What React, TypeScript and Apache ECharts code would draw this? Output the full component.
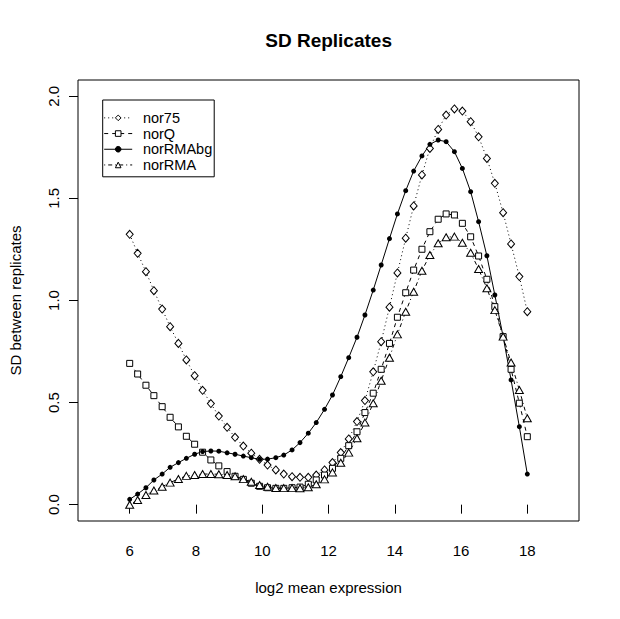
import React, { useEffect, useRef } from "react";
import * as echarts from "echarts";

const xValues = [
  6.0, 6.24, 6.49, 6.73, 6.98, 7.22, 7.47, 7.71, 7.96, 8.2, 8.45, 8.69, 8.94, 9.18, 9.43, 9.67, 9.92,
  10.16, 10.41, 10.65, 10.9, 11.14, 11.39, 11.63, 11.88, 12.12, 12.37, 12.61, 12.86, 13.1, 13.35,
  13.59, 13.84, 14.08, 14.33, 14.57, 14.82, 15.06, 15.31, 15.55, 15.8, 16.04, 16.29, 16.53, 16.78,
  17.02, 17.27, 17.51, 17.76, 18.0,
];

const nor75 = [
  1.324, 1.231, 1.141, 1.048, 0.958, 0.872, 0.79, 0.709, 0.632, 0.56, 0.495, 0.434, 0.379, 0.33,
  0.287, 0.252, 0.222, 0.194, 0.17, 0.15, 0.137, 0.134, 0.134, 0.145, 0.17, 0.206, 0.255, 0.322,
  0.407, 0.51, 0.651, 0.798, 0.967, 1.135, 1.305, 1.463, 1.615, 1.745, 1.838, 1.908, 1.938, 1.928,
  1.876, 1.802, 1.696, 1.574, 1.43, 1.277, 1.117, 0.945,
];

const norQ = [
  0.692, 0.64, 0.585, 0.534, 0.48, 0.428, 0.381, 0.335, 0.296, 0.257, 0.219, 0.19, 0.162, 0.139,
  0.124, 0.105, 0.09, 0.083, 0.08, 0.08, 0.083, 0.086, 0.1, 0.121, 0.145, 0.178, 0.227, 0.289, 0.357,
  0.451, 0.546, 0.663, 0.79, 0.918, 1.038, 1.149, 1.251, 1.337, 1.398, 1.424, 1.419, 1.378, 1.312,
  1.218, 1.104, 0.97, 0.823, 0.663, 0.497, 0.333,
];

const norRMAbg = [
  0.026, 0.052, 0.083, 0.121, 0.15, 0.183, 0.206, 0.227, 0.247, 0.26, 0.263, 0.262, 0.254, 0.247,
  0.238, 0.23, 0.222, 0.223, 0.23, 0.243, 0.268, 0.304, 0.35, 0.402, 0.467, 0.537, 0.627, 0.72, 0.82,
  0.929, 1.051, 1.174, 1.303, 1.424, 1.538, 1.634, 1.708, 1.765, 1.786, 1.778, 1.729, 1.647, 1.533,
  1.386, 1.219, 1.027, 0.823, 0.611, 0.382, 0.15,
];

const norRMA = [
  0.0, 0.023, 0.047, 0.069, 0.088, 0.108, 0.126, 0.141, 0.145, 0.15, 0.15, 0.149, 0.145, 0.139,
  0.125, 0.112, 0.096, 0.088, 0.082, 0.081, 0.081, 0.08, 0.085, 0.1, 0.124, 0.158, 0.205, 0.255,
  0.325, 0.402, 0.497, 0.607, 0.72, 0.834, 0.945, 1.043, 1.146, 1.223, 1.28, 1.31, 1.313, 1.283,
  1.234, 1.154, 1.06, 0.953, 0.823, 0.696, 0.562, 0.423,
];

const xTicks = [6, 8, 10, 12, 14, 16, 18];
const yTicks = [0, 0.5, 1.0, 1.5, 2.0];

const FONT = "'Liberation Sans', Arial, sans-serif";

export default function App() {
  const ref = useRef<HTMLDivElement>(null);

  useEffect(() => {
    if (!ref.current) return;
    const chart = echarts.init(ref.current, null, { renderer: "svg" });
    const pts = (ys: number[]) => ys.map((y, i) => [xValues[i], y]);
    const hollow = { color: "#ffffff", borderColor: "#000000", borderWidth: 1 };

    chart.setOption({
      animation: false,
      backgroundColor: "#ffffff",
      title: {
        text: "SD Replicates",
        left: 328.6,
        top: 31,
        textAlign: "center",
        padding: 0,
        textStyle: { fontFamily: FONT, fontSize: 19, fontWeight: "bold", color: "#000" },
      },
      grid: {
        left: 78,
        right: 41,
        top: 80,
        bottom: 98,
        show: true,
        borderColor: "#000",
        borderWidth: 1,
        backgroundColor: "transparent",
        containLabel: false,
      },
      legend: {
        orient: "vertical",
        left: 102.7,
        top: 100,
        padding: [10, 2, 4, 1],
        itemGap: 0,
        itemWidth: 28,
        itemHeight: 7,
        borderColor: "#000",
        borderWidth: 1,
        borderRadius: 0,
        selectedMode: false,
        lineStyle: { width: 1 },
        itemStyle: { borderWidth: 1 },
        textStyle: {
          fontFamily: FONT,
          fontSize: 14.5,
          color: "#000",
          lineHeight: 15.7,
          padding: [0, 0, 0, 5.7],
        },
        data: ["nor75", "norQ", "norRMAbg", "norRMA"],
      },
      xAxis: {
        type: "value",
        min: 4.44,
        max: 19.56,
        name: "log2 mean expression",
        nameLocation: "middle",
        nameGap: 59,
        nameTextStyle: { fontFamily: FONT, fontSize: 15, color: "#000" },
        axisLine: { show: false },
        splitLine: { show: false },
        axisTick: {
          show: true,
          inside: false,
          length: 9,
          customValues: xTicks,
          lineStyle: { color: "#000", width: 1 },
        },
        axisLabel: {
          customValues: xTicks,
          margin: 22,
          fontFamily: FONT,
          fontSize: 15,
          color: "#000",
          formatter: (v: number) => String(v),
        },
      },
      yAxis: {
        type: "value",
        min: -0.08,
        max: 2.08,
        name: "SD between replicates",
        nameLocation: "middle",
        nameGap: 55,
        nameTextStyle: { fontFamily: FONT, fontSize: 15, color: "#000" },
        axisLine: { show: false },
        splitLine: { show: false },
        axisTick: {
          show: true,
          inside: false,
          length: 9,
          customValues: yTicks,
          lineStyle: { color: "#000", width: 1 },
        },
        axisLabel: {
          customValues: yTicks,
          rotate: 90,
          margin: 17,
          fontFamily: FONT,
          fontSize: 15,
          color: "#000",
          formatter: (v: number) => v.toFixed(1),
        },
      },
      series: [
        {
          name: "nor75",
          type: "line",
          data: pts(nor75),
          symbol: "diamond",
          symbolSize: [7, 8],
          lineStyle: { color: "#000", width: 1, type: [1, 3] },
          itemStyle: hollow,
        },
        {
          name: "norQ",
          type: "line",
          data: pts(norQ),
          symbol: "rect",
          symbolSize: 6,
          lineStyle: { color: "#000", width: 1, type: [4, 4] },
          itemStyle: hollow,
        },
        {
          name: "norRMAbg",
          type: "line",
          data: pts(norRMAbg),
          symbol: "circle",
          symbolSize: 5,
          lineStyle: { color: "#000", width: 1, type: "solid" },
          itemStyle: { color: "#000", borderColor: "#000", borderWidth: 0 },
        },
        {
          name: "norRMA",
          type: "line",
          data: pts(norRMA),
          symbol: "triangle",
          symbolSize: [8, 7],
          lineStyle: { color: "#000", width: 1, type: [1, 3, 4, 3] },
          itemStyle: hollow,
        },
      ],
    });

    return () => chart.dispose();
  }, []);

  return (
    <div
      ref={ref}
      style={{ position: "absolute", left: 0, top: 0, width: 620, height: 619, background: "#fff" }}
    />
  );
}
